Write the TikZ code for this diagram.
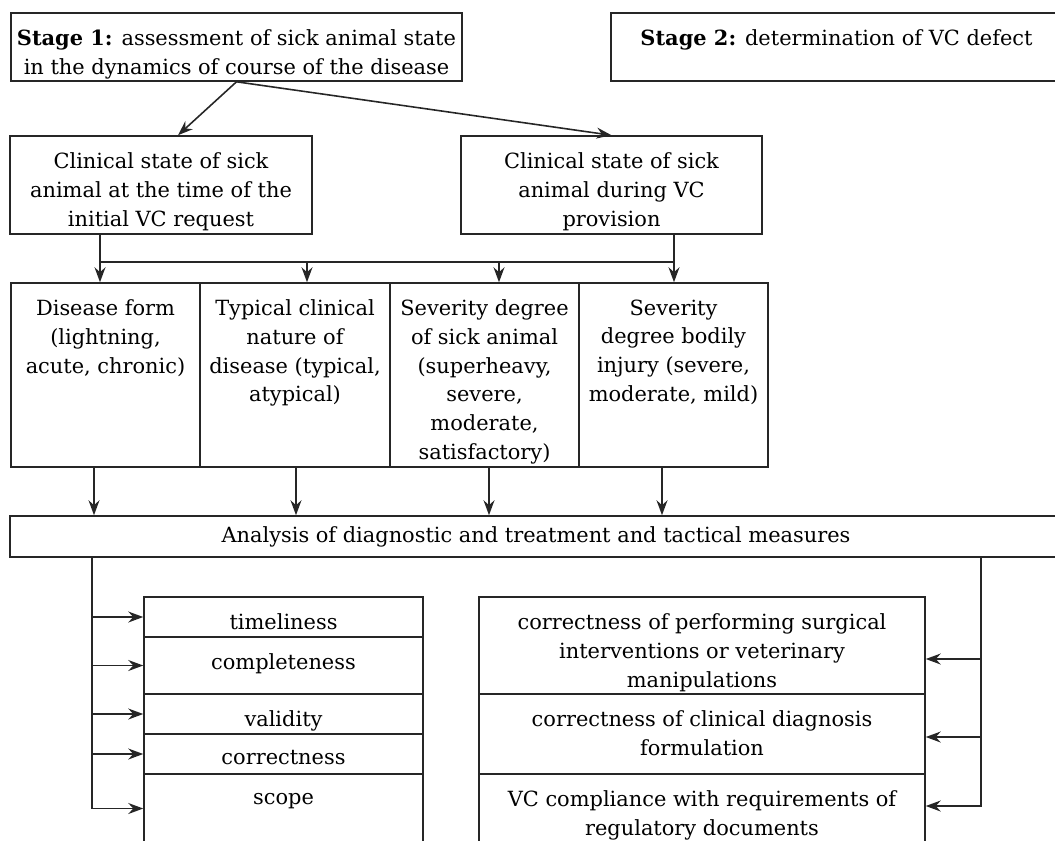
\documentclass[tikz,border=0pt]{standalone}
\usepackage{fontspec}
\setmainfont{DejaVu Serif}
\usetikzlibrary{positioning,calc,arrows.meta}

\tikzset{
  box/.style={draw=black!85, line width=0.9pt, inner sep=0pt},
  txt/.style={align=center, inner sep=0pt, font=\fontsize{11.9}{16.4}\selectfont},
  wire/.style={draw=black!85, line width=0.9pt},
  arr/.style={wire, -{Stealth[length=3mm,width=2.2mm,inset=1mm]}},
}

\begin{document}
\begin{tikzpicture}[x=0.02cm, y=-0.02cm]
	\useasboundingbox (0,0) rectangle (1055,840);
	\clip (0,0) rectangle (1055,840);
	% stages
	\node[box, minimum width=9.02cm, minimum height=1.36cm] (stageA) at (236.5,47) {};
	\node[txt, below=0.34cm of stageA.north] (stageAt) {\textbf{Stage 1:} assessment of sick animal state\\in the dynamics of course of the disease};
	\node[box, minimum width=9.02cm, minimum height=1.36cm] (stageB) at (836.5,47) {};
	\node[txt, below=0.34cm of stageB.north] (stageBt) {\textbf{Stage 2:} determination of VC defect};
	% clinical state
	\node[box, minimum width=6.04cm, minimum height=1.96cm] (clinA) at (161,185) {};
	\node[txt, below=0.34cm of clinA.north] (clinAt) {Clinical state of sick\\animal at the time of the\\initial VC request};
	\node[box, minimum width=6.02cm, minimum height=1.96cm] (clinB) at (611.5,185) {};
	\node[txt, below=0.34cm of clinB.north] (clinBt) {Clinical state of sick\\animal during VC\\provision};
	% four criteria
	\node[box, minimum width=3.78cm, minimum height=3.68cm] (form) at (105.5,375) {};
	\node[txt, below=0.34cm of form.north] (formt) {Disease form\\(lightning,\\acute, chronic)};
	\node[box, minimum width=3.80cm, minimum height=3.68cm] (nature) at (295,375) {};
	\node[txt, below=0.34cm of nature.north] (naturet) {Typical clinical\\nature of\\disease (typical,\\atypical)};
	\node[box, minimum width=3.78cm, minimum height=3.68cm] (sev) at (484.5,375) {};
	\node[txt, below=0.34cm of sev.north] (sevt) {Severity degree\\of sick animal\\(superheavy,\\severe,\\moderate,\\satisfactory)};
	\node[box, minimum width=3.78cm, minimum height=3.68cm] (injury) at (673.5,375) {};
	\node[txt, below=0.34cm of injury.north] (injuryt) {Severity\\degree bodily\\injury (severe,\\moderate, mild)};
	% analysis
	\node[box, txt, minimum width=21.04cm, minimum height=0.82cm] (analysis) at (536,536.5) {Analysis of diagnostic and treatment and tactical measures};
	% left column
	\node[box, minimum width=5.58cm, minimum height=0.80cm] (timely) at (283.5,617) {};
	\node[txt, below=0.34cm of timely.north] (timelyt) {timeliness};
	\node[box, minimum width=5.58cm, minimum height=1.14cm] (complete) at (283.5,665.5) {};
	\node[txt, below=0.34cm of complete.north] (completet) {completeness};
	\node[box, minimum width=5.58cm, minimum height=0.80cm] (valid) at (283.5,714) {};
	\node[txt, below=0.34cm of valid.north] (validt) {validity};
	\node[box, minimum width=5.58cm, minimum height=0.80cm] (correct) at (283.5,754) {};
	\node[txt, below=0.34cm of correct.north] (correctt) {correctness};
	\node[box, minimum width=5.58cm, minimum height=1.38cm] (scope) at (283.5,808.5) {};
	\node[txt, below=0.4cm of scope.north] (scopet) {scope};
	% right column
	\node[box, minimum width=8.92cm, minimum height=1.94cm] (surg) at (702,645.5) {};
	\node[txt, below=0.34cm of surg.north] (surgt) {correctness of performing surgical\\interventions or veterinary\\manipulations};
	\node[box, minimum width=8.92cm, minimum height=1.60cm] (diag) at (702,734) {};
	\node[txt, below=0.34cm of diag.north] (diagt) {correctness of clinical diagnosis\\formulation};
	\node[box, minimum width=8.92cm, minimum height=1.38cm] (comply) at (702,808.5) {};
	\node[txt, below=0.34cm of comply.north] (complyt) {VC compliance with requirements of\\regulatory documents};
	% arrows from stage 1
	\draw[arr] (stageA.south) -- ($(clinA.north)+(17,0)$);
	\draw[arr] (stageA.south) -- (clinB.north);
	% bus between clinical states and criteria
	\coordinate (busL) at ($(clinA.south)+(-61,27)$);
	\coordinate (busR) at ($(clinB.south)+(62.5,27)$);
	\draw[wire] ($(clinA.south)+(-61,0)$) -- (busL) -- (busR) -- ($(clinB.south)+(62.5,0)$);
	\foreach \b/\dx in {form/-5.5,nature/12,sev/14.5,injury/0.5} {
		\path ($(\b.north)+(\dx,0)$) coordinate (tip);
		\draw[arr] (tip |- busL) -- (tip);
	}
	% criteria to analysis
	\foreach \b/\dx in {form/-11.5,nature/1,sev/4.5,injury/-11.5} {
		\path ($(\b.south)+(\dx,0)$) coordinate (src);
		\draw[arr] (src) -- (src |- analysis.north);
	}
	% left feed
	\path ($(analysis.south -| timely.west)+(-51,0)$) coordinate (lbus);
	\draw[arr] (lbus) |- (scope.west);
	\foreach \b in {timely,complete,valid,correct}
		\draw[arr] (lbus |- \b.west) -- (\b.west);
	% right feed
	\path ($(analysis.south -| surg.east)+(55,0)$) coordinate (rbus);
	\draw[arr] (rbus) |- ($(comply.east)+(0,-2.5)$);
	\foreach \b/\dy in {surg/13.5,diag/3} {
		\path ($(\b.east)+(0,\dy)$) coordinate (dst);
		\draw[arr] (rbus |- dst) -- (dst);
	}
\end{tikzpicture}
\end{document}
